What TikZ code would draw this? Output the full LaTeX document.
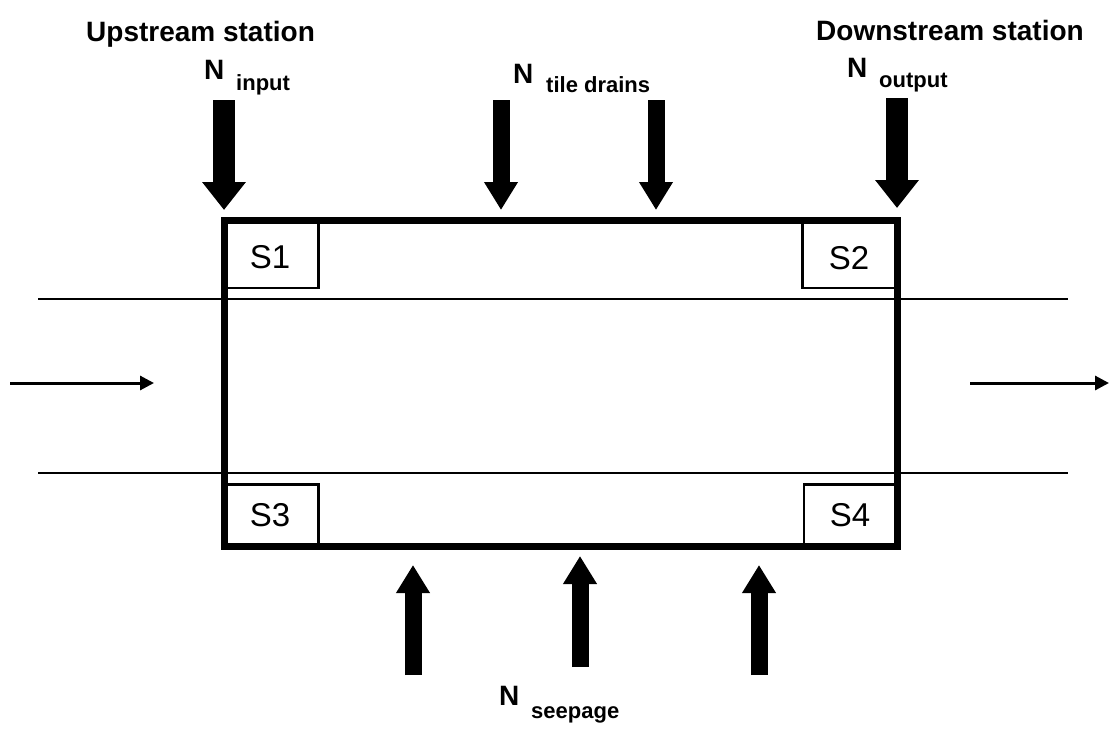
\documentclass[tikz,border=0pt]{standalone}
\usepackage{fontspec}
\setmainfont{Liberation Sans}
\usetikzlibrary{arrows.meta}
\tikzset{
  bigarrow/.style={line width=22pt, -{Triangle[width=42pt,length=28pt]}},
  medarrow/.style={line width=17pt, -{Triangle[width=32pt,length=28pt]}},
  thinarrow/.style={line width=3pt, -{Triangle[width=14pt,length=14pt]}},
  mainbox/.style={line width=7pt},
  sbox/.style={line width=2.5pt},
  riverline/.style={line width=2.5pt},
  slabel/.style={font=\fontsize{33}{35}\selectfont, inner sep=0pt},
  head/.style={font=\bfseries\fontsize{28}{30}\selectfont, inner sep=0pt},
  nlab/.style={font=\bfseries\fontsize{28}{30}\selectfont, inner sep=0pt},
  sublab/.style={font=\bfseries\fontsize{22}{24}\selectfont, inner sep=0pt},
}
\begin{document}
\begin{tikzpicture}[x=1pt,y=-1pt]
\useasboundingbox[fill=white] (0,0) rectangle (1110,736);
% river banks
\coordinate (ul) at (38,299); \coordinate (ur) at (1068,299);
\coordinate (ll) at (38,473); \coordinate (lr) at (1068,473);
\draw[riverline] (ul) -- (ur);
\draw[riverline] (ll) -- (lr);
% main box
\coordinate (b1) at (224.5,220); \coordinate (b2) at (897.5,546);
\draw[mainbox] (b1) rectangle (b2);
% station boxes
\draw[sbox] (224.5,220) rectangle (318.5,288);
\draw[sbox] (802.5,220) rectangle (897.5,288);
\draw[sbox] (224.5,484.5) rectangle (318.5,546);
\draw[sbox] (804,484.5) rectangle (897.5,546);
\node[slabel] (s1) at (270,257) {S1};
\node[slabel] (s2) at (849,258) {S2};
\node[slabel] (s3) at (270,515) {S3};
\node[slabel] (s4) at (850,515) {S4};
% flow arrows
\coordinate (fl1) at (10,383); \coordinate (fl2) at (154,383);
\coordinate (fr1) at (970,383); \coordinate (fr2) at (1109,383);
\draw[thinarrow] (fl1) -- (fl2);
\draw[thinarrow] (fr1) -- (fr2);
% input / output
\coordinate (in1) at (224,100); \coordinate (in2) at (224,210);
\coordinate (out1) at (897,98); \coordinate (out2) at (897,208);
\draw[bigarrow] (in1) -- (in2);
\draw[bigarrow] (out1) -- (out2);
% tile drains
\coordinate (t1a) at (501,100); \coordinate (t1b) at (501,210);
\coordinate (t2a) at (656,100); \coordinate (t2b) at (656,210);
\draw[medarrow] (t1a) -- (t1b);
\draw[medarrow] (t2a) -- (t2b);
% seepage
\coordinate (p1a) at (413,675); \coordinate (p1b) at (413,565);
\coordinate (p2a) at (580,667); \coordinate (p2b) at (580,556);
\coordinate (p3a) at (759,675); \coordinate (p3b) at (759,565);
\draw[medarrow] (p1a) -- (p1b);
\draw[medarrow] (p2a) -- (p2b);
\draw[medarrow] (p3a) -- (p3b);
% headers
\node[head, anchor=base west] (up) at (86,41) {Upstream station};
\node[head, anchor=base east] (down) at (1084,40) {Downstream station};
% N labels
\node[nlab, anchor=base west] (nin) at (204,79) {N};
\node[sublab, anchor=base west] (nins) at (236,90) {input};
\node[nlab, anchor=base west] (nt) at (513,83) {N};
\node[sublab, anchor=base west] (nts) at (546,92) {tile drains};
\node[nlab, anchor=base west] (no) at (847,77) {N};
\node[sublab, anchor=base west] (nos) at (879,87) {output};
\node[nlab, anchor=base west] (ns) at (499,705) {N};
\node[sublab, anchor=base west] (nss) at (531,718) {seepage};
\end{tikzpicture}
\end{document}
